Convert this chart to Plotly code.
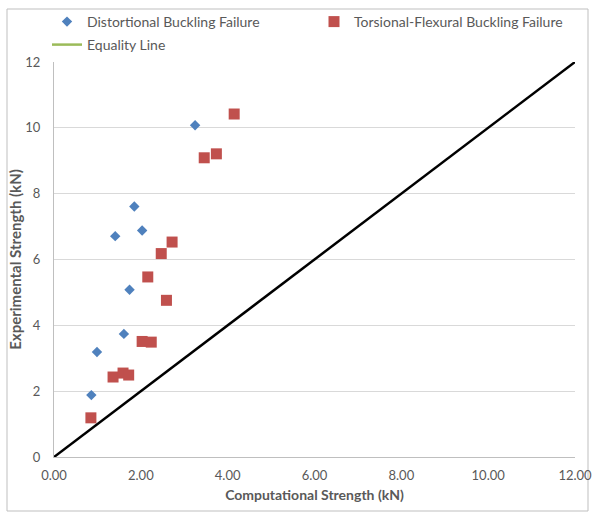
import plotly.graph_objects as go

# Distortional buckling failure (computational, experimental) in kN
dist_x = [0.86, 0.99, 1.61, 1.74, 1.41, 2.03, 1.85, 3.25]
dist_y = [1.88, 3.19, 3.74, 5.08, 6.71, 6.88, 7.61, 10.08]

# Torsional-flexural buckling failure
tf_x = [0.85, 1.36, 1.59, 1.72, 2.03, 2.24, 2.16, 2.47, 2.72, 2.59, 3.46, 3.74, 4.15]
tf_y = [1.19, 2.43, 2.55, 2.49, 3.51, 3.49, 5.47, 6.18, 6.53, 4.76, 9.09, 9.21, 10.42]

# Equality line
eq_x = [0, 12]
eq_y = [0, 12]

x_ticks = [0, 2, 4, 6, 8, 10, 12]
y_ticks = [0, 2, 4, 6, 8, 10, 12]

FONT = "Lato"
GRAY = "#595959"

# plot-area pixel frame (used only to place legends / border in paper coords)
L, R, T, B = 54, 575, 62, 457
W, H = R - L, B - T


def px(xp):
    return (xp - L) / W


def py(yp):
    return (B - yp) / H


fig = go.Figure()
fig.add_trace(go.Scatter(
    x=dist_x, y=dist_y, mode="markers", name="Distortional Buckling Failure",
    marker=dict(symbol="diamond", size=8, color="#4F81BD"), legend="legend"))
fig.add_trace(go.Scatter(
    x=tf_x, y=tf_y, mode="markers", name="Torsional-Flexural Buckling Failure",
    marker=dict(symbol="square", size=11, color="#C0504D"), legend="legend2"))
fig.add_trace(go.Scatter(
    x=eq_x, y=eq_y, mode="lines", name="Equality Line", showlegend=False,
    line=dict(color="black", width=2.5)))
# legend entry for the equality line (drawn in green in the original legend)
fig.add_trace(go.Scatter(
    x=[None], y=[None], mode="lines", name="Equality Line",
    line=dict(color="#9BBB59", width=2.5), legend="legend3"))

leg_common = dict(orientation="h", xref="paper", yref="paper",
                  xanchor="left", yanchor="middle",
                  font=dict(family=FONT, size=14, color=GRAY),
                  bgcolor="rgba(0,0,0,0)")

fig.update_layout(
    width=598, height=512,
    margin=dict(l=L, r=598 - R, t=T, b=512 - B, autoexpand=False),
    paper_bgcolor="white", plot_bgcolor="white",
    font=dict(family=FONT, size=13, color=GRAY),
    legend=dict(x=px(47), y=py(22), **leg_common),
    legend2=dict(x=px(314), y=py(22), **leg_common),
    legend3=dict(x=px(47), y=py(45), **leg_common),
    xaxis=dict(range=[0, 12], tickvals=x_ticks, tickformat=".2f",
               showgrid=False, zeroline=False, showline=True,
               linecolor="#BFBFBF", linewidth=1, ticks="",
               ticklabelstandoff=6,
               tickfont=dict(family=FONT, size=13, color=GRAY),
               title=dict(text="<b>Computational Strength (kN)</b>", standoff=8,
                          font=dict(family=FONT, size=14, color=GRAY))),
    yaxis=dict(range=[0, 12], tickvals=y_ticks,
               showgrid=True, gridcolor="#D9D9D9", gridwidth=1,
               zeroline=False, showline=True, linecolor="#BFBFBF",
               linewidth=1, ticks="", ticklabelstandoff=10,
               tickfont=dict(family=FONT, size=13, color=GRAY),
               title=dict(text="<b>Experimental Strength (kN)</b>", standoff=0,
                          font=dict(family=FONT, size=15, color=GRAY))),
)

# outer chart border
fig.add_shape(type="rect", xref="paper", yref="paper",
              x0=px(7), x1=px(588), y0=py(511), y1=py(9),
              line=dict(color="#BFBFBF", width=1), layer="below")

fig.write_html("out.html",
               config={"displayModeBar": False},
               post_script="document.body.style.margin='0';"
                           "document.body.style.overflow='hidden';")
